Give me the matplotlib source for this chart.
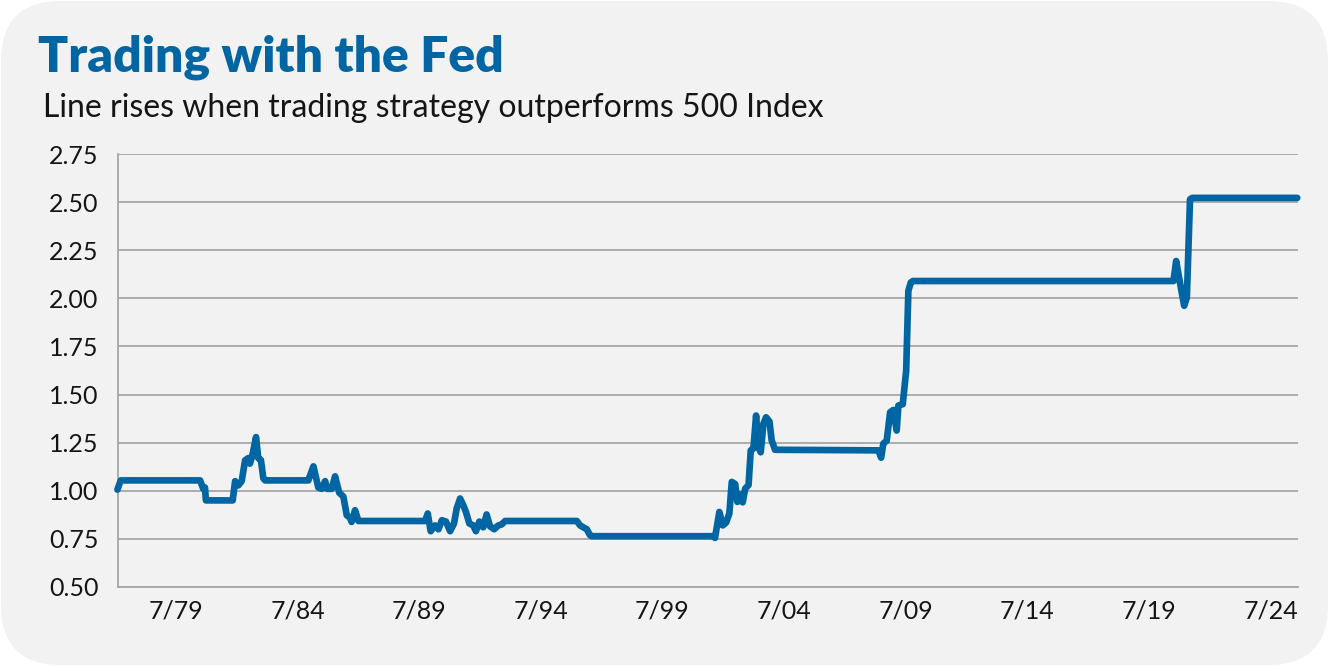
import matplotlib
matplotlib.use("Agg")
import matplotlib.pyplot as plt
from matplotlib.patches import FancyBboxPatch

# Decimal-year positions and strategy/index ratio values
years = [1977.09, 1977.23, 1980.49, 1980.62, 1980.69, 1980.73, 1981.83, 1981.93, 1982.06, 1982.20,
         1982.34, 1982.47, 1982.54, 1982.65, 1982.79, 1982.88, 1982.99, 1983.09, 1983.16, 1984.94,
         1985.15, 1985.35, 1985.49, 1985.63, 1985.72, 1985.90, 1986.04, 1986.21, 1986.38, 1986.52,
         1986.65, 1986.72, 1986.86, 1987.00, 1989.74, 1989.85, 1989.97, 1990.15, 1990.29, 1990.43,
         1990.60, 1990.77, 1990.93, 1991.04, 1991.18, 1991.31, 1991.42, 1991.56, 1991.72, 1991.83,
         1991.97, 1992.13, 1992.27, 1992.41, 1992.58, 1992.75, 1992.89, 1993.03, 1995.98, 1996.11,
         1996.25, 1996.39, 1996.52, 1996.60, 2001.59, 2001.66, 2001.84, 2001.98, 2002.12, 2002.25,
         2002.35, 2002.49, 2002.58, 2002.69, 2002.80, 2002.90, 2003.04, 2003.13, 2003.24, 2003.35,
         2003.44, 2003.54, 2003.65, 2003.76, 2003.90, 2003.99, 2004.13, 2008.38, 2008.49, 2008.58,
         2008.72, 2008.86, 2008.99, 2009.13, 2009.20, 2009.38, 2009.52, 2009.61, 2009.71, 2009.80,
         2020.51, 2020.62, 2020.78, 2020.95, 2021.06, 2021.19, 2021.28, 2025.60]
values = [1.006, 1.054, 1.054, 1.010, 1.017, 0.950, 0.950, 1.050, 1.028, 1.050,
          1.158, 1.170, 1.141, 1.190, 1.279, 1.170, 1.160, 1.065, 1.054, 1.054,
          1.127, 1.017, 1.010, 1.050, 1.010, 1.010, 1.075, 0.990, 0.970, 0.873,
          0.860, 0.838, 0.899, 0.843, 0.843, 0.882, 0.790, 0.820, 0.800, 0.847,
          0.840, 0.790, 0.830, 0.908, 0.960, 0.925, 0.890, 0.830, 0.820, 0.790,
          0.840, 0.810, 0.877, 0.815, 0.800, 0.820, 0.825, 0.843, 0.843, 0.820,
          0.810, 0.800, 0.769, 0.764, 0.764, 0.755, 0.890, 0.820, 0.835, 0.882,
          1.046, 1.035, 0.942, 0.980, 0.940, 1.011, 1.030, 1.210, 1.220, 1.391,
          1.227, 1.200, 1.348, 1.382, 1.360, 1.262, 1.213, 1.210, 1.172, 1.245,
          1.260, 1.408, 1.420, 1.313, 1.443, 1.450, 1.624, 2.039, 2.082, 2.090,
          2.090, 2.194, 2.080, 1.961, 2.004, 2.514, 2.522, 2.522]

tick_years = [1979.5, 1984.5, 1989.5, 1994.5, 1999.5, 2004.5, 2009.5, 2014.5, 2019.5, 2024.5]
tick_labels = ["7/79", "7/84", "7/89", "7/94", "7/99", "7/04", "7/09", "7/14", "7/19", "7/24"]
y_ticks = [0.50, 0.75, 1.00, 1.25, 1.50, 1.75, 2.00, 2.25, 2.50, 2.75]

title = "Trading with the Fed"
subtitle = "Line rises when trading strategy outperforms 500 Index"

BLUE = "#0065a3"
BG = "#f2f2f2"
GRID = "#a6a6a6"
TXT = "#151515"

plt.rcParams['font.family'] = ['Lato', 'DejaVu Sans']

W, H = 1329, 666
fig = plt.figure(figsize=(W / 100, H / 100), dpi=100)
fig.patch.set_facecolor("white")

bg = FancyBboxPatch((1, 1), W - 2, H - 2,
                    boxstyle="round,pad=0,rounding_size=60",
                    transform=None, facecolor=BG, edgecolor="none", zorder=-10)
fig.patches.append(bg)

fig.text(38 / W, 1 - 72 / H, title, fontsize=35.8, fontweight="heavy", color=BLUE,
         ha="left", va="baseline", zorder=5)
fig.text(43 / W, 1 - 117 / H, subtitle, fontsize=23, color=TXT,
         ha="left", va="baseline", zorder=5)

ax = fig.add_axes([118 / W, 1 - 587 / H, (1298 - 118) / W, (587 - 154) / H], zorder=5)
ax.set_facecolor("none")
ax.plot(years, values, color=BLUE, lw=4.8, solid_capstyle="round",
        solid_joinstyle="round", zorder=3, clip_on=False)

ax.set_xlim(1977.115, 2025.63)
ax.set_ylim(0.5, 2.75)
ax.set_yticks(y_ticks)
ax.set_yticklabels([f"{v:.2f}" for v in y_ticks])
ax.set_xticks(tick_years)
ax.set_xticklabels(tick_labels)
ax.tick_params(axis="both", length=0, labelsize=18, colors=TXT)
ax.tick_params(axis="y", pad=14)
ax.tick_params(axis="x", pad=9)
ax.grid(axis="y", color=GRID, lw=1.3, zorder=1)
ax.grid(axis="x", visible=False)
for s in ["top", "right"]:
    ax.spines[s].set_visible(False)
ax.spines["left"].set_color(GRID)
ax.spines["left"].set_linewidth(1.3)
ax.spines["bottom"].set_color(GRID)
ax.spines["bottom"].set_linewidth(1.3)

fig.savefig("out.png", dpi=100, facecolor="white")
